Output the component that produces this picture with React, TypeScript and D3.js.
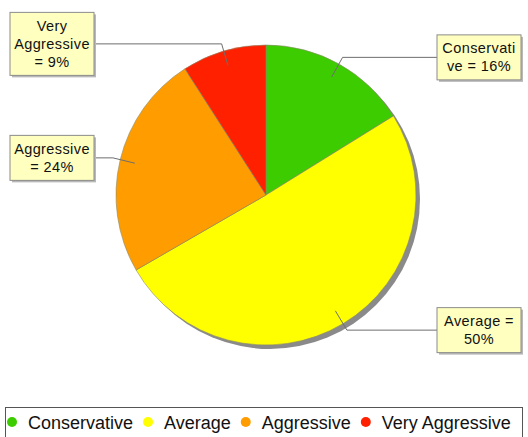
import React, { useEffect, useRef } from "react";
import * as d3 from "d3";

const categories = ["Conservative", "Average", "Aggressive", "Very Aggressive"];
const values = [16, 50, 24, 9];
const colors = ["#3dcc00", "#ffff00", "#ff9c00", "#ff2000"];
const labelLines = [
  ["Conservati", "ve = 16%"],
  ["Average =", "50%"],
  ["Aggressive", "= 24%"],
  ["Very", "Aggressive", "= 9%"],
];

const W = 528;
const H = 437;

export default function App() {
  const ref = useRef<SVGSVGElement | null>(null);

  useEffect(() => {
    const svg = d3.select(ref.current);
    svg.selectAll("*").remove();
    const font = "'Liberation Sans', Arial, sans-serif";
    const cx = 266, cy = 195, r = 150;

    const pie = d3.pie<number>().sort(null).startAngle(0).endAngle(2 * Math.PI);
    const arcs = pie(values);
    const arc = d3.arc<d3.PieArcDatum<number>>().innerRadius(0).outerRadius(r);

    svg.append("rect").attr("width", W).attr("height", H).attr("fill", "#ffffff");

    // shadow
    svg.append("circle").attr("cx", cx + 4).attr("cy", cy + 4).attr("r", r).attr("fill", "#8a8a8a");

    const g = svg.append("g").attr("transform", `translate(${cx},${cy})`);
    g.selectAll("path.slice")
      .data(arcs)
      .enter()
      .append("path")
      .attr("class", "slice")
      .attr("d", arc as any)
      .attr("fill", (_d, i) => colors[i])
      .attr("stroke", "#8a8a6a")
      .attr("stroke-width", 0.6);

    // labels
    const lineH = 18;
    const boxW = 84;
    arcs.forEach((a, i) => {
      const mid = (a.startAngle + a.endAngle) / 2;
      const px = (rad: number) => cx + rad * Math.sin(mid);
      const py = (rad: number) => cy - rad * Math.cos(mid);
      const ax = px(r * 0.9), ay = py(r * 0.9);
      const ex = px(r * 1.05), ey = py(r * 1.05);
      const right = Math.sin(mid) > 0;
      const lines = labelLines[i];
      const boxH = lines.length * lineH + 9;
      const bx = right ? cx + 171 : 10;
      const by = ey - boxH / 2;
      const lineEndX = right ? bx : bx + boxW;

      svg.append("polyline")
        .attr("points", `${ax},${ay} ${ex},${ey} ${lineEndX},${ey}`)
        .attr("fill", "none")
        .attr("stroke", "#6e6e6e")
        .attr("stroke-width", 1);

      svg.append("rect")
        .attr("x", bx + 2).attr("y", by + 2).attr("width", boxW).attr("height", boxH)
        .attr("fill", "#b8b8b8");
      svg.append("rect")
        .attr("x", bx).attr("y", by).attr("width", boxW).attr("height", boxH)
        .attr("fill", "#ffffc0").attr("stroke", "#8c8c8c").attr("stroke-width", 1);

      const t = svg.append("text")
        .attr("font-family", font)
        .attr("font-size", 14.5)
        .attr("letter-spacing", 0.4)
        .attr("fill", "#111")
        .attr("text-anchor", "middle");
      lines.forEach((ln, j) => {
        t.append("tspan")
          .attr("x", bx + boxW / 2)
          .attr("y", by + 4.5 + lineH * j + 14)
          .text(ln);
      });
    });

    // legend
    const ly = 407;
    svg.append("rect")
      .attr("x", 5.5).attr("y", ly + 0.5).attr("width", 517).attr("height", 40)
      .attr("fill", "#fff").attr("stroke", "#555").attr("stroke-width", 1);
    let x = 12;
    categories.forEach((c, i) => {
      svg.append("circle").attr("cx", x).attr("cy", ly + 15).attr("r", 5).attr("fill", colors[i]);
      const t = svg.append("text")
        .attr("x", x + 16)
        .attr("y", ly + 21.5)
        .attr("font-family", font)
        .attr("font-size", 18)
        .attr("fill", "#111")
        .text(c);
      const w = (t.node() as SVGTextElement).getComputedTextLength();
      x = x + 16 + w + 15;
    });
  }, []);

  return (
    <svg
      ref={ref}
      width={W}
      height={H}
      style={{ position: "absolute", left: 0, top: 0, display: "block" }}
    />
  );
}
